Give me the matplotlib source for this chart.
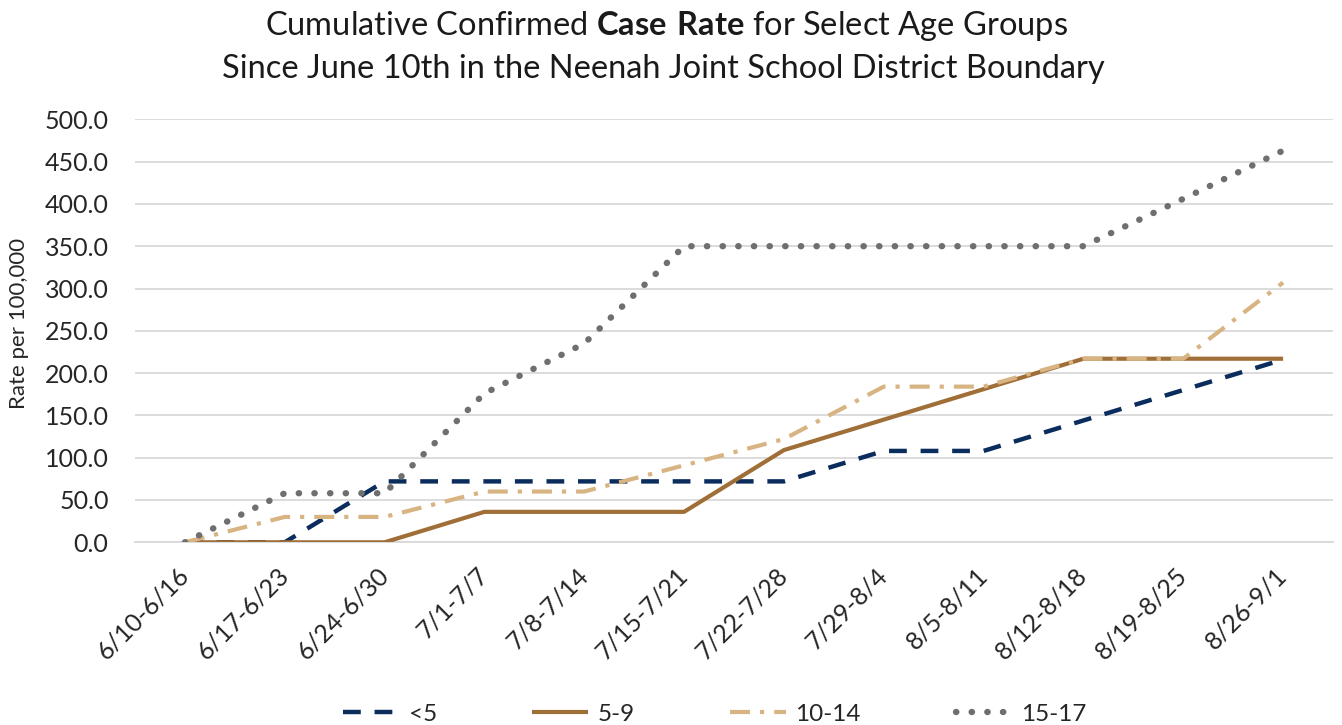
import matplotlib
matplotlib.use("Agg")
import matplotlib.pyplot as plt
from matplotlib.lines import Line2D

plt.rcParams['font.family'] = ['Lato', 'DejaVu Sans']
plt.rcParams['mathtext.fontset'] = 'custom'
plt.rcParams['mathtext.rm'] = 'Lato'
plt.rcParams['mathtext.bf'] = 'Lato:bold'

categories = ["6/10-6/16", "6/17-6/23", "6/24-6/30", "7/1-7/7", "7/8-7/14",
              "7/15-7/21", "7/22-7/28", "7/29-8/4", "8/5-8/11", "8/12-8/18",
              "8/19-8/25", "8/26-9/1"]
under5 = [0, 0, 72, 72, 72, 72, 72, 108, 108, 144, 180, 216]
age5_9 = [0, 0, 0, 36, 36, 36, 109, 145, 181, 217, 217, 217]
age10_14 = [0, 30, 30, 60, 60, 91, 122, 184, 184, 217, 217, 307]
age15_17 = [0, 58, 58, 176, 235, 350, 350, 350, 350, 350, 406, 463]
series_names = ["<5", "5-9", "10-14", "15-17"]
yticks = [0, 50, 100, 150, 200, 250, 300, 350, 400, 450, 500]

W, H = 1342, 725
fig = plt.figure(figsize=(W / 100, H / 100), dpi=100)
ax = fig.add_axes([135 / W, 1 - 542.3 / H, (1333 - 135) / W, (542.3 - 119.3) / H])

x = list(range(len(categories)))
styles = [
    dict(color='#0B2D5E', lw=3.2, linestyle=(0, (4.0, 3.1)), dash_capstyle='butt'),
    dict(color='#A06E37', lw=3.0, linestyle='-', solid_capstyle='butt'),
    dict(color='#D7B482', lw=3.0, linestyle=(0, (4.8, 2.4, 1.0, 2.4)), dash_capstyle='butt'),
    dict(color='#6F6F6F', lw=4.6, linestyle=(0, (0.05, 2.4)), dash_capstyle='round'),
]
data = [under5, age5_9, age10_14, age15_17]
for vals, st, name in zip(data, styles, series_names):
    ax.plot(x, vals, label=name, zorder=3, **st)

ax.set_xlim(-0.5, len(categories) - 0.5)
ax.set_ylim(0, 500)
ax.set_yticks(yticks)
ax.set_yticklabels([f"{v:.1f}" for v in yticks], fontsize=18, color='#262626')
ax.yaxis.grid(True, color='#D9D9D9', lw=1.3)
ax.set_axisbelow(True)
for s in ['top', 'right', 'left']:
    ax.spines[s].set_visible(False)
ax.spines['bottom'].set_color('#D9D9D9')
ax.spines['bottom'].set_linewidth(1.3)
ax.tick_params(axis='y', length=0, pad=19)
ax.tick_params(axis='x', length=0, pad=21)
ax.set_xticks(x)
ax.set_xticklabels(categories, fontsize=18, color='#262626', rotation=45,
                   ha='right', va='center', rotation_mode='anchor')

fig.text(19 / W, 1 - 323 / H, "Rate per 100,000", rotation=90, ha='center', va='center',
         fontsize=16, color='#262626')

fig.text(666 / W, 1 - 26 / H, r"Cumulative Confirmed $\mathbf{Case\ Rate}$ for Select Age Groups",
         ha='center', va='center', fontsize=23.5, color='#1a1a1a')
fig.text(663 / W, 1 - 69 / H, "Since June 10th in the Neenah Joint School District Boundary",
         ha='center', va='center', fontsize=23.5, color='#1a1a1a')

handles = [Line2D([], [], **st) for st in styles]
fig.legend(handles, series_names, loc='center', bbox_to_anchor=(715 / W, 1 - 714 / H),
           ncol=4, frameon=False, handlelength=2.3, handletextpad=0.4,
           columnspacing=3.9, fontsize=17.5, labelcolor='#262626')

fig.savefig("out.png", dpi=100)
